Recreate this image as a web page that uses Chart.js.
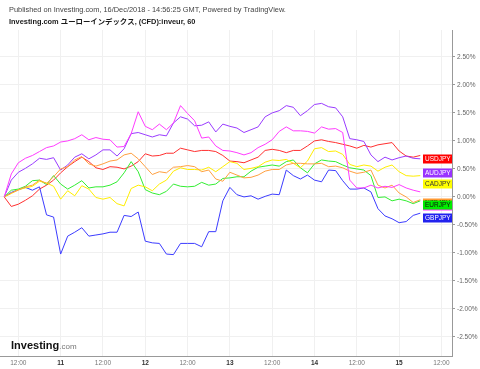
<!DOCTYPE html>
<html>
<head>
<meta charset="utf-8">
<title>Investing.com ユーローインデックス</title>
<script src="https://cdn.jsdelivr.net/npm/chart.js@4.4.1/dist/chart.umd.min.js"></script>
<style>
    html, body { margin: 0; padding: 0; background: #fff; }
    canvas { display: block; }
</style>
</head>
<body>
<canvas id="compareChart" width="480" height="369"></canvas>
<script>
// jam sejak 10 Dec 00:00, tiap 2 jam
const hours = [8, 10, 12, 14, 16, 18, 20, 22, 24, 26, 28, 30, 32, 34, 36, 38, 40, 42, 44, 46,
    48, 50, 52, 54, 56, 58, 60, 62, 64, 66, 68, 70, 72, 74, 76, 78, 80, 82, 84, 86,
    88, 90, 92, 94, 96, 98, 100, 102, 104, 106, 108, 110, 112, 114, 116, 118, 120, 122, 124, 126]

// perubahan dalam %
const usdjpy = [0, -0.17, -0.13, -0.06, 0.02, 0.14, 0.21, 0.30, 0.43, 0.54,
    0.63, 0.71, 0.63, 0.52, 0.49, 0.54, 0.53, 0.50, 0.55, 0.63,
    0.77, 0.73, 0.74, 0.78, 0.78, 0.87, 0.84, 0.81, 0.83, 0.83,
    0.81, 0.74, 0.64, 0.63, 0.61, 0.66, 0.71, 0.83, 0.85, 0.83,
    0.79, 0.83, 0.83, 0.91, 1.00, 1.02, 0.99, 0.97, 0.94, 0.91,
    0.87, 0.92, 0.89, 0.93, 0.95, 0.97, 0.82, 0.73, 0.71, 0.74]
const audjpy = [0, 0.30, 0.44, 0.51, 0.59, 0.69, 0.67, 0.70, 0.48, 0.57,
    0.71, 0.77, 0.68, 0.75, 0.84, 0.84, 0.73, 0.86, 1.13, 1.15,
    1.11, 1.07, 1.11, 1.09, 1.32, 1.43, 1.39, 1.27, 1.28, 1.34,
    1.16, 1.30, 1.26, 1.23, 1.15, 1.20, 1.25, 1.43, 1.50, 1.54,
    1.63, 1.60, 1.45, 1.54, 1.65, 1.67, 1.61, 1.59, 1.43, 1.04,
    1.02, 0.99, 0.75, 0.63, 0.71, 0.66, 0.70, 0.73, 0.69, 0.68]
const cadjpy = [0, 0.06, 0.13, 0.16, 0.19, 0.28, 0.25, 0.19, -0.04, 0.11,
    0.02, 0.20, 0.14, -0.01, -0.04, -0.01, -0.12, -0.16, 0.15, 0.21,
    0.18, 0.11, 0.23, 0.30, 0.46, 0.52, 0.49, 0.49, 0.48, 0.53,
    0.45, 0.54, 0.63, 0.60, 0.49, 0.51, 0.54, 0.62, 0.66, 0.65,
    0.67, 0.60, 0.52, 0.64, 0.86, 0.88, 0.81, 0.82, 0.76, 0.58,
    0.54, 0.57, 0.55, 0.46, 0.53, 0.57, 0.45, 0.38, 0.37, 0.38]
const eurjpy = [0, 0.12, 0.14, 0.19, 0.29, 0.30, 0.22, 0.38, 0.23, 0.14,
    0.21, 0.29, 0.16, 0.18, 0.18, 0.21, 0.27, 0.43, 0.63, 0.45,
    0.13, 0.07, 0.04, 0.10, 0.23, 0.19, 0.18, 0.19, 0.26, 0.21,
    0.23, 0.33, 0.34, 0.36, 0.36, 0.46, 0.53, 0.55, 0.57, 0.55,
    0.63, 0.66, 0.52, 0.43, 0.59, 0.66, 0.64, 0.63, 0.57, 0.52,
    0.50, 0.48, 0.38, -0.01, 0.00, -0.07, -0.04, -0.07, -0.12, -0.07]
const gbpjpy = [0, 0.08, 0.13, 0.17, 0.12, 0.18, -0.32, -0.36, -1.02, -0.70,
    -0.63, -0.55, -0.70, -0.68, -0.66, -0.63, -0.63, -0.33, -0.35, -0.27,
    -0.79, -0.82, -0.83, -1.02, -1.03, -0.83, -0.83, -0.83, -0.89, -0.62,
    -0.62, -0.07, 0.17, 0.04, 0.00, 0.02, -0.04, 0.01, 0.05, 0.04,
    0.48, 0.38, 0.32, 0.39, 0.30, 0.27, 0.48, 0.47, 0.29, 0.14,
    0.14, 0.16, 0.09, -0.21, -0.34, -0.39, -0.46, -0.44, -0.33, -0.29]
const nzdjpy = [0, 0.07, 0.12, 0.18, 0.21, 0.30, 0.24, 0.36, 0.50, 0.54,
    0.66, 0.72, 0.59, 0.55, 0.59, 0.64, 0.66, 0.75, 0.78, 0.68,
    0.54, 0.40, 0.45, 0.43, 0.53, 0.54, 0.56, 0.54, 0.45, 0.48,
    0.32, 0.28, 0.44, 0.39, 0.34, 0.35, 0.39, 0.46, 0.49, 0.49,
    0.57, 0.60, 0.60, 0.59, 0.59, 0.60, 0.54, 0.55, 0.52, 0.46,
    0.42, 0.44, 0.48, 0.21, 0.16, 0.21, 0.07, 0.00, -0.10, -0.05]
const chfjpy = [0, 0.41, 0.61, 0.69, 0.74, 0.81, 0.88, 0.91, 0.98, 1.00,
    1.04, 1.11, 1.02, 1.06, 1.03, 1.02, 0.89, 0.90, 1.13, 1.52,
    1.26, 1.20, 1.30, 1.20, 1.32, 1.63, 1.49, 1.36, 1.05, 1.07,
    0.91, 0.83, 0.82, 0.79, 0.75, 0.79, 0.88, 0.94, 1.02, 1.17,
    1.25, 1.18, 1.18, 1.17, 1.14, 1.25, 1.21, 1.22, 1.15, 0.30,
    0.16, 0.16, 0.21, 0.16, 0.19, 0.17, 0.22, 0.16, 0.12, 0.09]

const xTickHours = [12, 24, 36, 48, 60, 72, 84, 96, 108, 120, 132]
const xTickLabels = ['12:00', '11', '12:00', '12', '12:00', '13', '12:00', '14', '12:00', '15', '12:00']
const yTickValues = [-2.5, -2, -1.5, -1, -0.5, 0, 0.5, 1, 1.5, 2, 2.5]

const FONT = '"Liberation Sans", Arial, "Noto Sans CJK JP", sans-serif'

const series = [
    { name: 'CHFJPY', data: chfjpy, color: '#ff3cff', tag: -0.17, bg: '#ff33ff', fg: '#fff' },
    { name: 'NZDJPY', data: nzdjpy, color: '#ffa040', tag: -0.11, bg: '#ff9933', fg: '#000' },
    { name: 'CADJPY', data: cadjpy, color: '#ffee00', tag: 0.23, bg: '#ffff00', fg: '#333' },
    { name: 'EURJPY', data: eurjpy, color: '#33ee33', tag: -0.14, bg: '#00ee00', fg: '#111' },
    { name: 'GBPJPY', data: gbpjpy, color: '#3c3cff', tag: -0.37, bg: '#2222ee', fg: '#fff' },
    { name: 'AUDJPY', data: audjpy, color: '#9a3cff', tag: 0.43, bg: '#9933ff', fg: '#fff' },
    { name: 'USDJPY', data: usdjpy, color: '#ff3030', tag: 0.67, bg: '#ff0000', fg: '#fff' }
]

// label kotak di kanan (urutan gambar: yang tertutup dulu)
const tagOrder = ['NZDJPY', 'CHFJPY', 'EURJPY', 'GBPJPY', 'CADJPY', 'AUDJPY', 'USDJPY']

const backgroundPlugin = {
    id: 'bg',
    beforeDraw(chart) {
        const ctx = chart.ctx
        ctx.save()
        ctx.fillStyle = '#fff'
        ctx.fillRect(0, 0, chart.width, chart.height)
        ctx.restore()
    }
}

const tagPlugin = {
    id: 'tags',
    afterDatasetsDraw(chart) {
        const { ctx, chartArea } = chart
        const y = chart.scales.y
        ctx.save()
        ctx.font = '6.5px ' + FONT
        ctx.textBaseline = 'middle'
        tagOrder.forEach((name) => {
            const s = series.find((d) => d.name === name)
            const cy = Math.round(y.getPixelForValue(s.tag))
            ctx.fillStyle = s.bg
            ctx.fillRect(chartArea.right - 29, cy - 4.5, 29, 9)
            ctx.fillStyle = s.fg
            ctx.fillText(s.name, chartArea.right - 27, cy + 0.5)
        })
        ctx.restore()
    }
}

const headerPlugin = {
    id: 'header',
    afterDraw(chart) {
        const ctx = chart.ctx
        ctx.save()
        ctx.textBaseline = 'middle'
        ctx.fillStyle = '#444'
        ctx.font = '7.4px ' + FONT
        ctx.fillText('Published on Investing.com, 16/Dec/2018 - 14:56:25 GMT, Powered by TradingView.', 9, 10)
        ctx.fillStyle = '#1a1a1a'
        ctx.font = 'bold 7.4px ' + FONT
        ctx.fillText('Investing.com ユーローインデックス, (CFD):inveur, 60', 9, 22)

        // logo
        ctx.fillStyle = '#111'
        ctx.font = 'bold 11px ' + FONT
        ctx.textBaseline = 'alphabetic'
        ctx.fillText('Investing', 11, 349)
        const w = ctx.measureText('Investing').width
        ctx.fillStyle = '#777'
        ctx.font = '8px ' + FONT
        ctx.fillText('.com', 11 + w, 349)
        ctx.restore()
    }
}

new Chart(document.getElementById('compareChart'), {
    type: 'line',
    data: {
        datasets: series.map((s) => ({
            label: s.name,
            data: hours.map((h, i) => ({ x: h, y: s.data[i] })),
            borderColor: s.color,
            borderWidth: 1,
            pointRadius: 0,
            tension: 0,
            fill: false
        }))
    },
    options: {
        responsive: false,
        animation: false,
        devicePixelRatio: 1,
        layout: { padding: { top: 30, left: 0, right: 0, bottom: 0 } },
        plugins: {
            legend: { display: false },
            tooltip: { enabled: false }
        },
        scales: {
            x: {
                type: 'linear',
                min: 6.8,
                max: 135,
                afterBuildTicks: (scale) => {
                    scale.ticks = xTickHours.map((v) => ({ value: v }))
                },
                afterFit: (scale) => {
                    scale.height = 13
                },
                grid: { color: '#f0f0f0', drawTicks: false },
                border: { color: '#999' },
                ticks: {
                    padding: 3,
                    maxRotation: 0,
                    autoSkip: false,
                    font: (c) => ({
                        family: FONT,
                        size: 6.5,
                        weight: c.index % 2 === 1 ? 'bold' : 'normal'
                    }),
                    color: (c) => (c.index % 2 === 1 ? '#333' : '#777'),
                    callback: (v, i) => xTickLabels[i]
                }
            },
            y: {
                position: 'right',
                min: -2.84,
                max: 2.98,
                afterBuildTicks: (scale) => {
                    scale.ticks = yTickValues.map((v) => ({ value: v }))
                },
                afterFit: (scale) => {
                    scale.width = 28
                },
                grid: { color: '#f0f0f0', tickColor: '#999', tickLength: 3 },
                border: { color: '#999' },
                ticks: {
                    padding: 2,
                    font: { family: FONT, size: 6.5 },
                    color: '#666',
                    callback: (v) => v.toFixed(2) + '%'
                }
            }
        }
    },
    plugins: [backgroundPlugin, tagPlugin, headerPlugin]
})
</script>
</body>
</html>
